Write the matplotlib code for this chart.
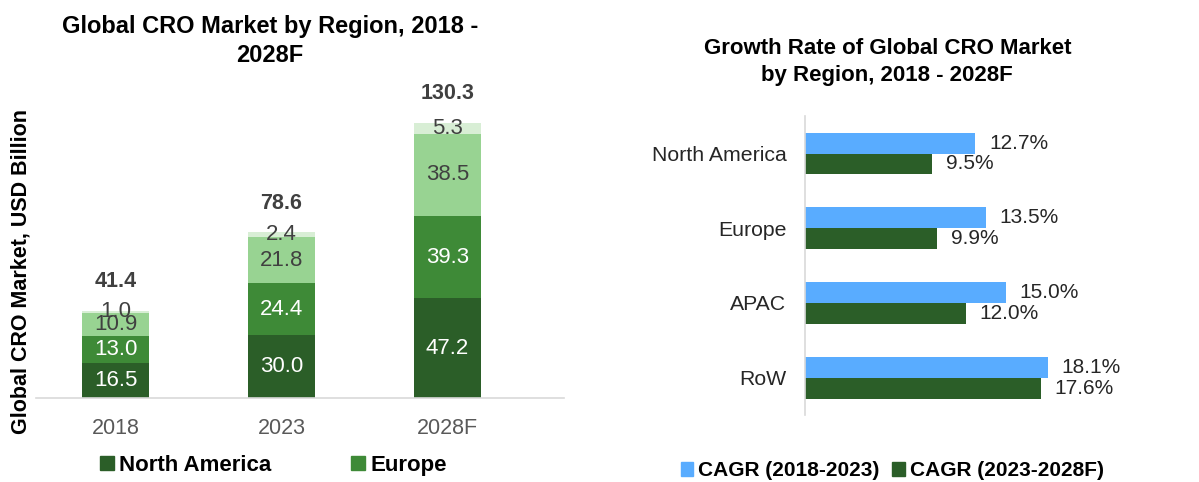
import numpy as np
from matplotlib import pyplot as plt
from matplotlib.patches import Patch

plt.rcParams['font.family'] = ['Liberation Sans', 'DejaVu Sans']

## DATA
years = ['2018', '2023', '2028F']
north_america = [16.5, 30.0, 47.2]
europe = [13.0, 24.4, 39.3]
apac = [10.9, 21.8, 38.5]
rest_of_world = [1.0, 2.4, 5.3]

regions = ['North America', 'Europe', 'APAC', 'RoW']
cagr_2018_2023 = [12.7, 13.5, 15.0, 18.1]
cagr_2023_2028 = [9.5, 9.9, 12.0, 17.6]
## END DATA

c_na = '#2b5e28'
c_eu = '#3e8a37'
c_apac = '#98d392'
c_row = '#d8eed5'
c_blue = '#59acff'
txt_dark = '#404040'

fig = plt.figure(figsize=(11.99, 4.82), dpi=100)

# ---- left: stacked market size ----
ax1 = fig.add_axes([0.030, 0.174, 0.440, 0.657])
x = np.arange(len(years))
segments = [(north_america, c_na, 'white'), (europe, c_eu, 'white'),
            (apac, c_apac, txt_dark), (rest_of_world, c_row, txt_dark)]
bottom = np.zeros(len(years))
for vals, col, tcol in segments:
    vals = np.array(vals)
    ax1.bar(x, vals, 0.4, bottom=bottom, color=col, edgecolor='none')
    for xi, b, v in zip(x, bottom, vals):
        ax1.text(xi, b + v / 2, "%.1f" % v, ha='center', va='center',
                 color=tcol, fontsize=16)
    bottom = bottom + vals

totals = bottom
for xi, t in zip(x, totals):
    ax1.annotate("%.1f" % t, (xi, t), xytext=(0, 21), textcoords='offset points',
                 ha='center', va='center', fontsize=15.5, fontweight='bold',
                 color=txt_dark)

ax1.set_xlim(-0.48, 2.7)
ax1.set_ylim(0, 150)
ax1.set_xticks(x)
ax1.set_xticklabels(years, fontsize=15.5, color='#595959')
ax1.tick_params(axis='x', length=0, pad=14)
ax1.set_yticks([])
for s in ['top', 'right', 'left']:
    ax1.spines[s].set_visible(False)
ax1.spines['bottom'].set_color('#d9d9d9')
ax1.spines['bottom'].set_linewidth(1.2)

fig.text(0.0175, 0.436, "Global CRO Market, USD Billion", rotation=90,
         ha='center', va='center', fontsize=15.5, fontweight='bold')

fig.text(0.225, 0.915, "Global CRO Market by Region, 2018 -\n2028F", ha='center',
         va='center', fontsize=17, fontweight='bold', linespacing=1.3)

leg1 = fig.legend(handles=[Patch(color=c_na, label='North America'),
                           Patch(color=c_eu, label='Europe')],
                  loc='center left', bbox_to_anchor=(0.067, 0.035), ncol=2,
                  frameon=False, handlelength=0.6, handleheight=0.6,
                  handletextpad=0.25, columnspacing=3.6,
                  prop={'size': 16, 'weight': 'bold'})

# ---- right: growth rates ----
ax2 = fig.add_axes([0.671, 0.139, 0.224, 0.620])
y = np.arange(len(regions))
h = 0.28
ax2.barh(y - h / 2, cagr_2018_2023, h, color=c_blue, edgecolor='none')
ax2.barh(y + h / 2, cagr_2023_2028, h, color=c_na, edgecolor='none')
for yi, a, b in zip(y, cagr_2018_2023, cagr_2023_2028):
    ax2.annotate("%.1f%%" % a, (a, yi - h / 2), xytext=(10, 0),
                 textcoords='offset points', ha='left', va='center',
                 fontsize=15, color='#262626')
    ax2.annotate("%.1f%%" % b, (b, yi + h / 2), xytext=(10, 0),
                 textcoords='offset points', ha='left', va='center',
                 fontsize=15, color='#262626')

ax2.set_ylim(3.5, -0.5)
ax2.set_xlim(0, 20)
ax2.set_yticks(y)
ax2.set_yticklabels(regions, fontsize=15.3, color='#262626')
ax2.tick_params(axis='y', length=0, pad=13)
ax2.set_xticks([])
for s in ['top', 'right', 'bottom']:
    ax2.spines[s].set_visible(False)
ax2.spines['left'].set_color('#d9d9d9')
ax2.spines['left'].set_linewidth(1.2)

fig.text(0.740, 0.871, "Growth Rate of Global CRO Market\nby Region, 2018 - 2028F",
         ha='center', va='center', fontsize=16, fontweight='bold', linespacing=1.4)

leg2 = fig.legend(handles=[Patch(color=c_blue, label='CAGR (2018-2023)'),
                           Patch(color=c_na, label='CAGR (2023-2028F)')],
                  loc='center left', bbox_to_anchor=(0.552, 0.023), ncol=2,
                  frameon=False, handlelength=0.6, handleheight=0.6,
                  handletextpad=0.25, columnspacing=0.6,
                  prop={'size': 15, 'weight': 'bold'})

plt.savefig("out.png", dpi=100)
